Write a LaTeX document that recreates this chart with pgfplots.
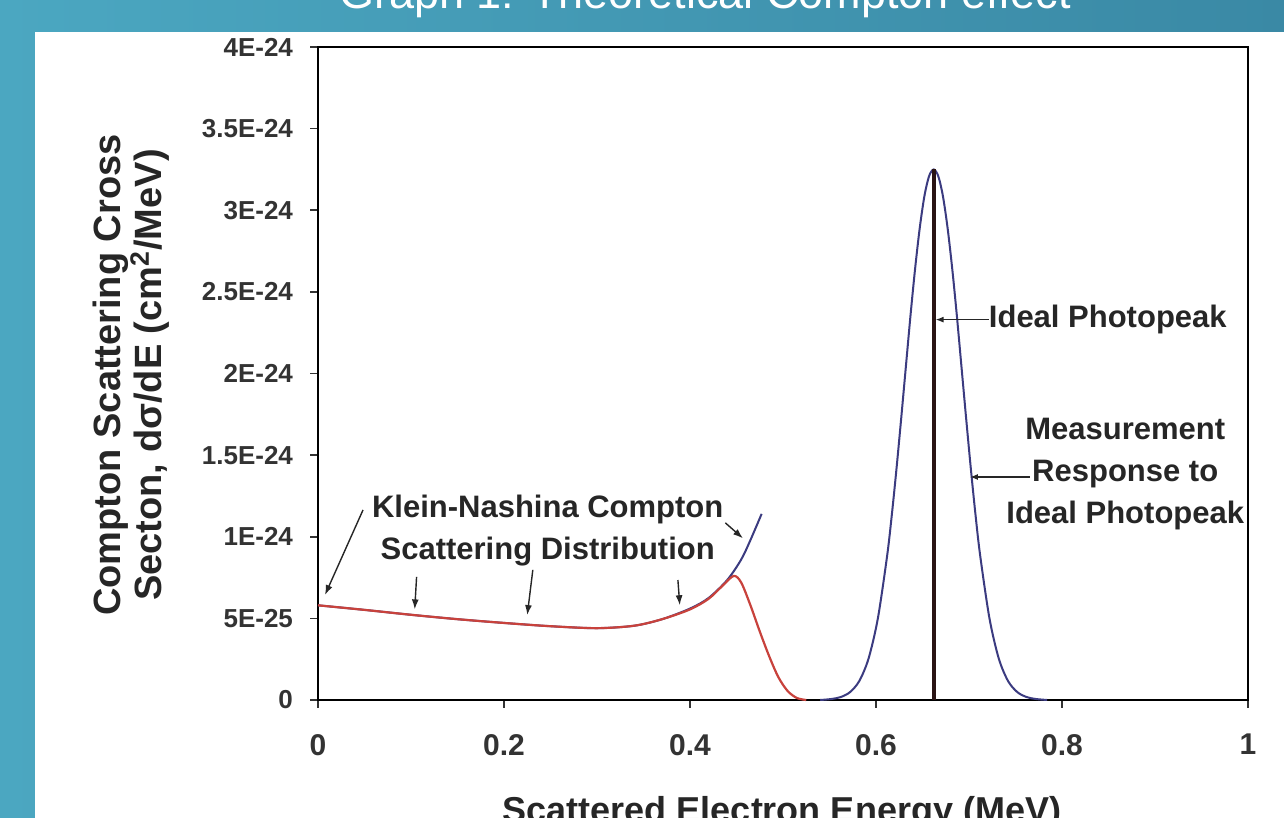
\documentclass[border=0pt]{standalone}
\usepackage{fontspec}
\setmainfont{Liberation Sans}
\usepackage{pgfplots}
\pgfplotsset{compat=1.18}
\usetikzlibrary{arrows.meta}
\definecolor{teallight}{HTML}{4BA7C1}
\definecolor{tealdark}{HTML}{3A89A5}
\definecolor{kncol}{HTML}{3B3B80}
\definecolor{meascol}{HTML}{C8423C}
\definecolor{peakcol}{HTML}{2A1414}
\begin{document}
\begin{tikzpicture}[x=0.5pt,y=0.5pt]
\fill[left color=teallight,right color=tealdark] (0,0) rectangle (1284,818);
\fill[white] (35,0) rectangle (1284,786);
\begin{scope}
\clip (0,0) rectangle (1284,818);
\node[white, anchor=base, font=\fontsize{22.5}{27}\selectfont] at (705,809) {Graph 1: Theoretical Compton effect};
\node[anchor=base, font=\bfseries\fontsize{18}{18}\selectfont, text=black!85] at (782,-5) {Scattered Electron Energy (MeV)};
\end{scope}
\node[rotate=90, align=center, font=\bfseries\fontsize{19}{19}\selectfont, text=black!85] at (131,443) {Compton Scattering Cross\\Secton, dσ/dE (cm\textsuperscript{2}/MeV)};
\begin{axis}[
  at={(159pt,59pt)}, anchor=south west,
  scale only axis, width=465pt, height=326.5pt,
  xmin=0, xmax=1, ymin=0, ymax=4,
  xtick={0,0.2,0.4,0.6,0.8,1},
  xticklabels={0,0.2,0.4,0.6,0.8,1},
  ytick={0,0.5,1,1.5,2,2.5,3,3.5,4},
  yticklabels={0,5E-25,1E-24,1.5E-24,2E-24,2.5E-24,3E-24,3.5E-24,4E-24},
  tick align=outside, xtick pos=bottom, ytick pos=left,
  major tick length=4pt,
  axis line style={line width=1.4pt},
  tick style={line width=0.8pt, black!80},
  xticklabel style={font=\bfseries\fontsize{15}{15}\selectfont, text=black!80, yshift=-9.5pt},
  yticklabel style={font=\bfseries\fontsize{13}{13}\selectfont, text=black!80, xshift=-5pt},
  clip=false,
]
% Klein-Nishina theoretical distribution
\addplot[kncol, line width=1pt, smooth] table {
0.000 0.580
0.050 0.552
0.100 0.522
0.150 0.495
0.200 0.472
0.250 0.452
0.300 0.440
0.340 0.455
0.370 0.495
0.400 0.560
0.420 0.625
0.440 0.735
0.455 0.860
0.465 0.980
0.477 1.140
};
% measured response
\addplot[meascol, line width=1.1pt, smooth] table {
0.000 0.580
0.050 0.552
0.100 0.522
0.150 0.495
0.200 0.472
0.250 0.452
0.300 0.440
0.340 0.455
0.370 0.495
0.400 0.555
0.420 0.620
0.435 0.700
0.447 0.760
0.455 0.720
0.465 0.580
0.475 0.420
0.485 0.270
0.495 0.140
0.505 0.055
0.515 0.012
0.525 0.000
};
% measurement response to ideal photopeak
\addplot[kncol, line width=1pt, smooth] table {
0.540 0.000
0.552 0.006
0.562 0.018
0.572 0.048
0.582 0.116
0.592 0.254
0.602 0.500
0.612 0.885
0.617 1.134
0.622 1.415
0.627 1.720
0.632 2.035
0.637 2.350
0.642 2.640
0.647 2.890
0.652 3.085
0.657 3.208
0.662 3.250
0.667 3.208
0.672 3.085
0.677 2.890
0.682 2.640
0.687 2.350
0.692 2.035
0.697 1.720
0.702 1.415
0.707 1.134
0.712 0.885
0.722 0.500
0.732 0.254
0.742 0.116
0.752 0.048
0.762 0.018
0.772 0.006
0.784 0.000
};
% ideal photopeak
\addplot[peakcol, line width=2pt] coordinates {(0.662,0) (0.662,3.25)};

\draw[-{Latex[length=5pt,width=3.5pt]}, line width=0.7pt, black!85] (axis cs:0.0484,1.164) -- (axis cs:0.0075,0.643);
\draw[-{Latex[length=5pt,width=3.5pt]}, line width=0.7pt, black!85] (axis cs:0.106,0.754) -- (axis cs:0.104,0.555);
\draw[-{Latex[length=5pt,width=3.5pt]}, line width=0.7pt, black!85] (axis cs:0.231,0.797) -- (axis cs:0.225,0.520);
\draw[-{Latex[length=5pt,width=3.5pt]}, line width=0.7pt, black!85] (axis cs:0.387,0.735) -- (axis cs:0.389,0.580);
\draw[-{Latex[length=5pt,width=3.5pt]}, line width=0.7pt, black!85] (axis cs:0.438,1.085) -- (axis cs:0.457,0.990);
\node[font=\bfseries\fontsize{15.5}{21}\selectfont, align=center, text=black!85] at (axis cs:0.247,1.036) {Klein-Nashina Compton\\Scattering Distribution};

\draw[{Latex[length=4pt,width=3pt]}-, line width=0.7pt, black!85] (axis cs:0.664,2.33) -- (axis cs:0.721,2.33);
\node[anchor=west, inner sep=0pt, font=\bfseries\fontsize{15.5}{21}\selectfont, text=black!85] at (axis cs:0.721,2.33) {Ideal Photopeak};

\draw[{Latex[length=4pt,width=3pt]}-, line width=0.7pt, black!85] (axis cs:0.701,1.366) -- (axis cs:0.766,1.366);
\node[font=\bfseries\fontsize{15.5}{21}\selectfont, align=center, text=black!85] at (axis cs:0.868,1.385) {Measurement\\Response to\\Ideal Photopeak};
\end{axis}
\pgfresetboundingbox
\path[use as bounding box] (0,0) rectangle (1284,818);
\end{tikzpicture}
\end{document}
